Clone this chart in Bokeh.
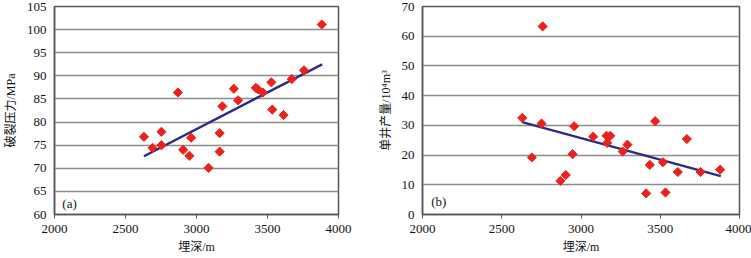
import math
from bokeh.plotting import figure
from bokeh.layouts import row
from bokeh.models import Range1d, SingleIntervalTicker, Label
from bokeh.embed import file_html
from bokeh.resources import INLINE

# ---- data (a): fracture pressure vs burial depth ----
depth_a = [2630, 2690, 2753, 2753, 2869, 2906, 2950, 2962, 3085, 3163, 3163, 3182,
           3263, 3293, 3418, 3432, 3467, 3527, 3534, 3613, 3671, 3757, 3882]
pressure_a = [76.8, 74.4, 77.9, 75.0, 86.4, 74.0, 72.7, 76.6, 70.1, 77.6, 73.6, 83.4,
              87.2, 84.7, 87.4, 87.1, 86.4, 88.6, 82.7, 81.5, 89.3, 91.2, 101.1]
trend_a_x = [2630, 3885]
trend_a_y = [72.6, 92.5]

# ---- data (b): single-well production vs burial depth ----
depth_b = [2629, 2690, 2751, 2758, 2870, 2904, 2947, 2957, 3077, 3161, 3165, 3185,
           3263, 3293, 3411, 3434, 3468, 3517, 3533, 3611, 3668, 3754, 3878]
prod_b = [32.5, 19.2, 30.6, 63.3, 11.3, 13.3, 20.3, 29.7, 26.2, 26.5, 24.1, 26.5,
          21.2, 23.5, 7.1, 16.7, 31.4, 17.6, 7.4, 14.3, 25.4, 14.3, 15.1]
trend_b_x = [2629, 3882]
trend_b_y = [31.1, 12.9]

NUMFONT = "Liberation Serif"
FONT = "Liberation Serif, Noto Sans CJK SC"
RED = "#E8231F"
NAVY = "#2E2A80"
GRID = "#8C8C8C"
FRAME = "#555555"


def make(width, height, ylo, yhi, yint, ylabel, xs, ys, tx, ty, tag, tag_x, tag_y,
         bl, br, bt, bb):
    p = figure(width=width, height=height, output_backend="svg", toolbar_location=None,
               x_range=Range1d(2000, 4000), y_range=Range1d(ylo, yhi),
               min_border_left=bl, min_border_right=br, min_border_top=bt,
               min_border_bottom=bb)
    p.xaxis.ticker = SingleIntervalTicker(interval=500)
    p.yaxis.ticker = SingleIntervalTicker(interval=yint)
    p.xgrid.grid_line_color = None
    p.ygrid.grid_line_color = GRID
    p.ygrid.grid_line_width = 1.5
    p.outline_line_color = FRAME
    p.outline_line_width = 1.5
    for ax in (p.xaxis, p.yaxis):
        ax.axis_line_color = FRAME
        ax.axis_line_width = 1.5
        ax.major_tick_in = 0
        ax.minor_tick_line_color = None
        ax.major_label_text_font = NUMFONT
        ax.major_label_text_font_size = "13px"
        ax.major_label_text_color = "#111111"
        ax.axis_label_text_font = FONT
        ax.axis_label_text_font_size = "12px"
        ax.axis_label_text_font_style = "normal"
        ax.axis_label_text_color = "#111111"
    p.xaxis.major_tick_out = 4
    p.xaxis.major_tick_line_color = FRAME
    p.yaxis.major_tick_out = 0
    p.yaxis.major_label_standoff = 4
    p.xaxis.major_label_standoff = 6
    p.xaxis.axis_label = "埋深/m"
    p.yaxis.axis_label = ylabel
    p.xaxis.axis_label_standoff = 4
    p.yaxis.axis_label_standoff = 6
    p.line(tx, ty, line_color=NAVY, line_width=2.5)
    p.scatter(xs, ys, marker="square", angle=math.pi / 4, size=6.5,
              fill_color=RED, line_color=RED)
    p.add_layout(Label(x=tag_x, y=tag_y, text=tag, text_font=NUMFONT, text_font_size="13px",
                       text_baseline="middle", text_color="#111111"))
    return p


pa = make(375, 258, 60, 105, 5, "破裂压力/MPa", depth_a, pressure_a, trend_a_x, trend_a_y,
          "(a)", 2055, 62.4, 49, 37, 6, 44)
pb = make(376, 258, 0, 70, 10, "单井产量/10⁴m³", depth_b, prod_b, trend_b_x, trend_b_y,
          "(b)", 2055, 4.3, 36, 12, 4, 44)

layout = row(pa, pb)
html = file_html(layout, INLINE)
html = html.replace("<body>", "<body style=\"margin:0\">", 1)
open("out.html", "w").write(html)
